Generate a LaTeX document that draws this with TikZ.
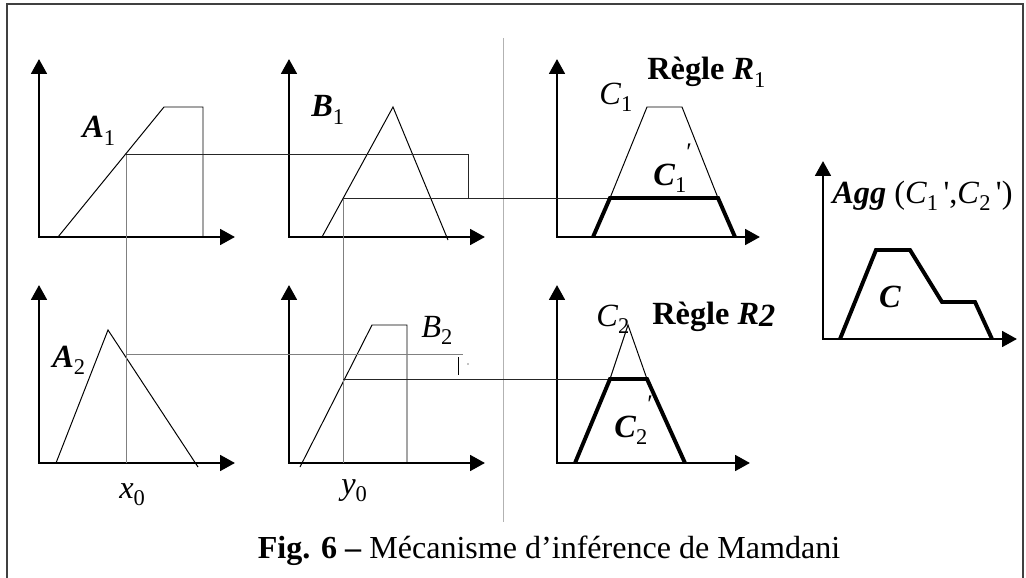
\documentclass[tikz,border=0pt]{standalone}
\usepackage{fontspec}
\setmainfont{Liberation Serif}
\usetikzlibrary{arrows.meta}

% small lowered index, as in the original figure
\newcommand{\lowidx}[1]{\raisebox{-0.5ex}{\fontsize{16}{16}\selectfont\mdseries\upshape #1}}
\newcommand{\hiprime}{\raisebox{0.75em}{\fontsize{18}{18}\selectfont\mdseries\upshape ′}}

\begin{document}
\begin{tikzpicture}[
  x=0.025cm, y=-0.025cm,
  axes/.style={line width=2pt, line join=miter,
               {Triangle[length=10.5pt,width=11pt]}-{Triangle[length=10.5pt,width=11pt]}},
  mf/.style={line width=0.7pt},
  cut/.style={line width=2.8pt, line join=miter},
  proj/.style={line width=0.7pt, black!85},
  projg/.style={line width=0.7pt, gray},
  lbl/.style={anchor=base west, inner sep=0pt, font=\fontsize{23}{23}\selectfont},
]
\useasboundingbox (0,0) rectangle (1026,578);
% Frame and separator
\draw[darkgray, line width=0.8pt] (7,578) -- (7,4) -- (1023,4) -- (1023,578);
\draw[gray!60, line width=0.7pt] (503,38) -- (503,522);
% Axes of the seven plots
\foreach \name/\ox/\oy/\lx in {a1/39/237/196, b1/289/237/196, c1/557/237/203,
                               a2/39/463/196, b2/289/463/196, c2/557/463/193,
                               ag/823/339/194}{
  \coordinate (\name) at (\ox,\oy);
  \draw[axes] (\ox,\oy-178) -- (\name) -- (\ox+\lx,\oy);
}
% Membership functions
\draw[mf] (58,237) -- (164,107) -- (203,107) -- (203,237);
\draw[mf] (322,237) -- (393,107) -- (448,240);
\draw[mf] (610,198) -- (647,107) -- (682,107) -- (718,198);
\draw[mf] (56,463) -- (108,330) -- (198,467);
\draw[mf] (300,467) -- (372,325) -- (407,325) -- (407,463);
\draw[mf] (610,379) -- (628,325) -- (647,379);
% Cut points
\coordinate (a1cut) at (126,154);
\coordinate (b1cut) at (343,198);
\coordinate (a2cut) at (126,354);
\coordinate (b2cut) at (343,379);
\coordinate (x0) at (126,463);
\coordinate (y0) at (343,463);
\coordinate (c1l) at (610,198);
\coordinate (c1r) at (718,198);
\coordinate (c2l) at (610,379);
\coordinate (c2r) at (647,379);
\coordinate (a1end) at (468,154);
\coordinate (a2end) at (463,354);
% Projections
\draw[projg] (a1cut) -- (x0);
\draw[projg] (b1cut) -- (y0);
\draw[proj] (a1cut) -- (a1end) -- (a1end |- b1cut);
\draw[proj] (b1cut) -- (c1l);
\draw[projg] (a2cut) -- (a2end);
\draw[proj] (b2cut) -- (c2l);
\draw[mf] (458,357) -- (458,375);
\fill (468,364) circle[radius=0.6];
% Clipped consequents and aggregation
\draw[cut] (593,237) -- (c1l) -- (c1r) -- (735,237);
\draw[cut] (575,463) -- (c2l) -- (c2r) -- (685,463);
\draw[cut] (840,339) -- (876,250) -- (910,250) -- (942,302) -- (975,302) -- (992,339);
% Labels
\node[lbl] (lA1) at (82,138) {\textbf{\textit{A}}\lowidx{1}};
\node[lbl] (lB1) at (311,117) {\textbf{\textit{B}}\lowidx{1}};
\node[lbl] (lC1) at (599,104) {\textit{C}\lowidx{1}};
\node[lbl] (lC1p) at (653,185) {\textbf{\textit{C}}\lowidx{1}\hiprime};
\node[lbl] (lR1) at (647,80) {\textbf{Règle \textit{R}}\lowidx{1}};
\node[lbl] (lA2) at (52,367) {\textbf{\textit{A}}\lowidx{2}};
\node[lbl] (lB2) at (421,337) {\textit{B}\lowidx{2}};
\node[lbl] (lC2) at (596,326) {\textit{C}\lowidx{2}};
\node[lbl] (lR2) at (652,324) {\textbf{Règle \textit{R}\raisebox{-0.2ex}{\textit{2}}}};
\node[lbl] (lC2p) at (614,437) {\textbf{\textit{C}}\lowidx{2}\hiprime};
\node[lbl] (lx0) at (119,498) {\textit{x}\lowidx{0}};
\node[lbl] (ly0) at (341,494) {\textit{y}\lowidx{0}};
\node[lbl] (lAgg) at (832,203)
  {\textbf{\textit{Agg}} (\textit{C}\lowidx{1}\,\textquotesingle,\textit{C}\lowidx{2}\,\textquotesingle)};
\node[lbl, anchor=center] (lC) at (890,297) {\textbf{\textit{C}}};
% Caption
\node[anchor=base, inner sep=0pt, font=\fontsize{22.8}{23}\selectfont] (cap) at (549,558)
  {\textbf{Fig. 6 –} Mécanisme d’inférence de Mamdani};
\end{tikzpicture}
\end{document}
